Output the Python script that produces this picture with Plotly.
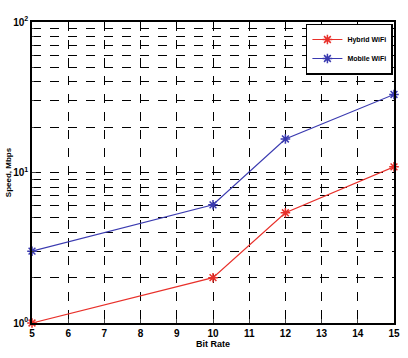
import plotly.graph_objects as go

x_vals = [5, 10, 12, 15]
hybrid_wifi = [1.0, 2.0, 5.4, 10.9]
mobile_wifi = [3.0, 6.1, 16.7, 33.0]
x_ticks = list(range(5, 16))
y_major = [1, 10, 100]
y_major_text = ["10<sup>0</sup>", "10<sup>1</sup>", "10<sup>2</sup>"]
y_minor = [2, 3, 4, 5, 6, 7, 8, 9, 20, 30, 40, 50, 60, 70, 80, 90]

fig = go.Figure()
fig.add_trace(go.Scatter(x=x_vals, y=hybrid_wifi, name="Hybrid WiFi",
                         mode="lines+markers", cliponaxis=False,
                         line=dict(color="#e8302a", width=1.2),
                         marker=dict(symbol="asterisk", size=8,
                                     line=dict(color="#e8302a", width=1.5))))
fig.add_trace(go.Scatter(x=x_vals, y=mobile_wifi, name="Mobile WiFi",
                         mode="lines+markers", cliponaxis=False,
                         line=dict(color="#3a3ab0", width=1.2),
                         marker=dict(symbol="asterisk", size=8,
                                     line=dict(color="#3a3ab0", width=1.5))))

fig.update_layout(
    width=408, height=358,
    margin=dict(l=30, r=8, t=22, b=35),
    paper_bgcolor="white", plot_bgcolor="white",
    font=dict(family="Liberation Sans", size=9, color="black", weight="bold"),
    showlegend=True,
    legend=dict(x=0.997, y=0.995, xanchor="right", yanchor="top",
                bgcolor="white", bordercolor="black", borderwidth=1.5,
                font=dict(size=7, family="Liberation Sans", weight="bold"),
                itemwidth=30, tracegroupgap=0),
)
grid_common = dict(showgrid=True, gridcolor="black", griddash="dash", gridwidth=1.3)
fig.update_xaxes(range=[5, 15], tickvals=x_ticks, **grid_common,
                 showline=True, linecolor="black", linewidth=1.5, mirror=True,
                 ticks="inside", ticklen=4, zeroline=False,
                 ticklabeloverflow="allow",
                 title=dict(text="Bit Rate", standoff=2,
                            font=dict(size=9, weight="bold")),
                 tickfont=dict(size=10, weight="bold"))
fig.update_yaxes(type="log", range=[0, 2], tickvals=y_major, ticktext=y_major_text,
                 **grid_common,
                 minor=dict(tickvals=y_minor, showgrid=True, gridcolor="black",
                            griddash="dash", gridwidth=1.3, ticks="inside", ticklen=2),
                 showline=True, linecolor="black", linewidth=1.5, mirror=True,
                 ticks="inside", ticklen=4, zeroline=False,
                 ticklabeloverflow="allow",
                 title=dict(text="Speed, Mbps", standoff=0,
                            font=dict(size=8, weight="bold")),
                 tickfont=dict(size=10, weight="bold"))

fig.write_html("out.html", config={"displayModeBar": False},
               post_script="document.body.style.margin='0';document.body.style.overflow='hidden';")
